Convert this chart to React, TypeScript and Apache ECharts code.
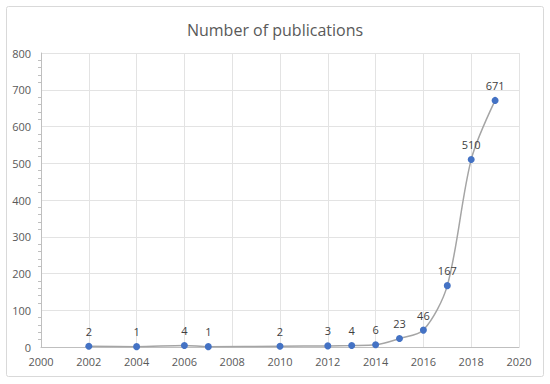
import React, { useEffect, useRef } from "react";
import * as echarts from "echarts";

const years = [2002, 2004, 2006, 2007, 2010, 2012, 2013, 2014, 2015, 2016, 2017, 2018, 2019];
const publications = [2, 1, 4, 1, 2, 3, 4, 6, 23, 46, 167, 510, 671];
const titleText = "Number of publications";

export default function App() {
  const ref = useRef<HTMLDivElement>(null);
  useEffect(() => {
    document.body.style.margin = "0";
    const chart = echarts.init(ref.current!, null, { renderer: "svg" });
    const font = "'Open Sans', 'Noto Sans', sans-serif";
    chart.setOption({
      animation: false,
      backgroundColor: "#ffffff",
      title: {
        text: titleText,
        left: "center",
        top: 17,
        textStyle: { fontFamily: font, fontSize: 16, fontWeight: "normal", color: "#595959" },
      },
      graphic: [
        {
          type: "rect",
          shape: { x: 6.5, y: 6.5, width: 537, height: 370, r: 2 },
          style: { fill: "none", stroke: "#d9d9d9", lineWidth: 1 },
          silent: true,
        },
      ],
      grid: { left: 41, right: 31, top: 53, bottom: 37 },
      xAxis: {
        type: "value",
        min: 2000,
        max: 2020,
        interval: 2,
        axisLine: { show: true, lineStyle: { color: "#bfbfbf" } },
        axisTick: { show: false },
        splitLine: { show: true, lineStyle: { color: "#e3e3e3" } },
        axisLabel: {
          fontFamily: font,
          fontSize: 11,
          color: "#595959",
          margin: 9,
          formatter: (v: number) => String(v),
        },
      },
      yAxis: {
        type: "value",
        min: 0,
        max: 800,
        interval: 100,
        axisLine: { show: true, lineStyle: { color: "#bfbfbf" } },
        axisTick: { show: false },
        minorTick: { show: true, splitNumber: 5, length: 3, lineStyle: { color: "#bfbfbf" } },
        splitLine: { show: true, lineStyle: { color: "#e3e3e3" } },
        axisLabel: { fontFamily: font, fontSize: 11, color: "#595959", margin: 10 },
      },
      series: [
        {
          type: "line",
          data: years.map((y, i) => [y, publications[i]]),
          smooth: 0.3,
          symbol: "circle",
          symbolSize: 7,
          lineStyle: { color: "#a5a5a5", width: 1.5 },
          itemStyle: { color: "#4472c4" },
          label: {
            show: true,
            position: "top",
            distance: 6,
            fontFamily: font,
            fontSize: 11,
            color: "#404040",
          },
        },
      ],
    });
    return () => chart.dispose();
  }, []);
  return <div ref={ref} style={{ width: 550, height: 384 }} />;
}
